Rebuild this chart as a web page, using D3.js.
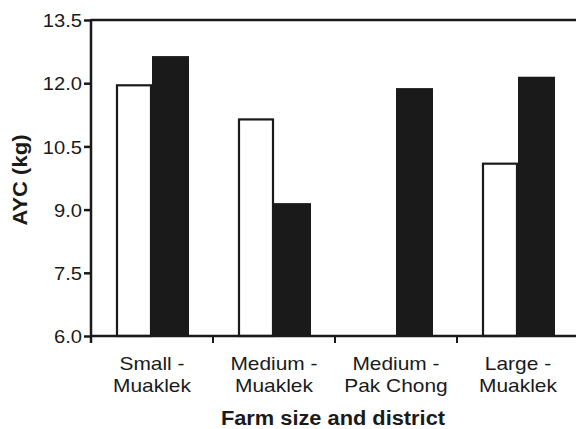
<!DOCTYPE html>
<html>
<head>
<meta charset="utf-8">
<script src="https://cdn.jsdelivr.net/npm/d3@7"></script>
<style>
  html, body { margin: 0; padding: 0; background: #fff; }
  svg { display: block; font-family: "Liberation Sans", Arial, sans-serif; }
</style>
</head>
<body>
<svg id="chart" width="576" height="429"></svg>
<script>
// Average yearly consumption by farm size and district
const categories = [["Small -", "Muaklek"], ["Medium -", "Muaklek"], ["Medium -", "Pak Chong"], ["Large -", "Muaklek"]];
const openValues = [11.95, 11.14, null, 10.09];
const filledValues = [12.62, 9.13, 11.86, 12.13];
const yTicks = [6.0, 7.5, 9.0, 10.5, 12.0, 13.5];
const xTitle = "Farm size and district";
const yTitle = "AYC (kg)";

const svg = d3.select("#chart");
const plotLeft = 91, plotRight = 579, plotTop = 20, plotBottom = 336;
const ink = "#1a1a1a";

const x = d3.scaleBand().domain(d3.range(categories.length)).range([plotLeft, plotRight]).padding(0);
const inner = d3.scaleBand().domain(["open", "filled"]).range([0, x.bandwidth()]).paddingInner(0).paddingOuter(0.694);
const y = d3.scaleLinear().domain([6, 13.5]).range([plotBottom, plotTop]);

// widen glyph runs slightly, the typeface here is a touch broader than Arial
function widen(sel, factor) {
  sel.each(function () {
    const len = this.getComputedTextLength();
    d3.select(this).attr("textLength", len * factor).attr("lengthAdjust", "spacingAndGlyphs");
  });
}

// frame line along the top
svg.append("line")
  .attr("x1", plotLeft).attr("x2", 576).attr("y1", plotTop).attr("y2", plotTop)
  .attr("stroke", ink).attr("stroke-width", 2.5);

// bars
const rows = categories.map((c, i) => ({ i, open: openValues[i], filled: filledValues[i] }));
const g = svg.append("g");
rows.forEach(r => {
  if (r.open != null) {
    g.append("rect")
      .attr("x", x(r.i) + inner("open") + 1)
      .attr("y", y(r.open))
      .attr("width", inner.bandwidth() - 2)
      .attr("height", plotBottom - y(r.open))
      .attr("fill", "#fff").attr("stroke", ink).attr("stroke-width", 2.2);
  }
  if (r.filled != null) {
    g.append("rect")
      .attr("x", x(r.i) + inner("filled"))
      .attr("y", y(r.filled) - 1)
      .attr("width", inner.bandwidth() + 1)
      .attr("height", plotBottom - y(r.filled) + 1)
      .attr("fill", ink);
  }
});

// y axis
const yAxis = d3.axisLeft(y).tickValues(yTicks).tickFormat(d3.format(".1f")).tickSize(7).tickPadding(2);
const yg = svg.append("g").attr("transform", `translate(${plotLeft},0)`).call(yAxis);
yg.select(".domain").attr("stroke", ink).attr("stroke-width", 2.5).attr("d", `M0,${plotTop - 1}V${plotBottom + 7}`);
yg.selectAll(".tick line").attr("stroke", ink).attr("stroke-width", 2.5);
const yLabels = yg.selectAll(".tick text").attr("fill", ink).style("font-size", "18.5px").attr("dy", "0.36em");
widen(yLabels, 1.09);

// x axis line and ticks at category boundaries
svg.append("line")
  .attr("x1", plotLeft).attr("x2", 576).attr("y1", plotBottom).attr("y2", plotBottom)
  .attr("stroke", ink).attr("stroke-width", 2.5);
d3.range(1, categories.length).forEach(i => {
  svg.append("line")
    .attr("x1", x(i)).attr("x2", x(i)).attr("y1", plotBottom).attr("y2", plotBottom + 7)
    .attr("stroke", ink).attr("stroke-width", 2);
});

// category labels, two lines each
const catG = svg.append("g");
categories.forEach((lines, i) => {
  lines.forEach((s, k) => {
    catG.append("text")
      .attr("x", x(i) + x.bandwidth() / 2)
      .attr("y", 370 + k * 22)
      .attr("text-anchor", "middle")
      .attr("fill", ink)
      .style("font-size", "19px")
      .text(s);
  });
});
widen(catG.selectAll("text"), 1.1);

// axis titles
const xt = svg.append("text")
  .attr("x", (plotLeft + plotRight) / 2 - 2).attr("y", 425)
  .attr("text-anchor", "middle").attr("fill", ink)
  .style("font-size", "20px").style("font-weight", "bold")
  .text(xTitle);
widen(xt, 1.09);

const yt = svg.append("text")
  .attr("transform", `translate(27,180) rotate(-90)`)
  .attr("text-anchor", "middle").attr("fill", ink)
  .style("font-size", "19.5px").style("font-weight", "bold")
  .text(yTitle);
widen(yt, 1.13);
</script>
</body>
</html>
